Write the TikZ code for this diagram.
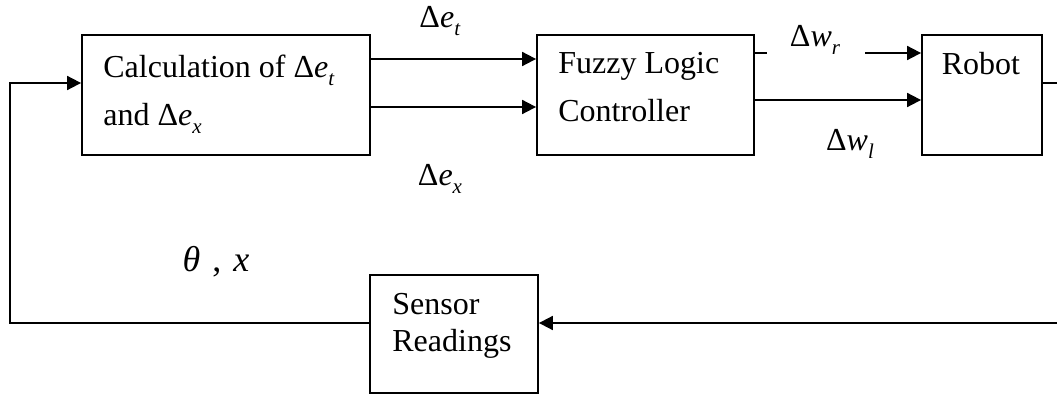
\documentclass[tikz,border=0pt]{standalone}
\usepackage{fontspec}
\setmainfont{Liberation Serif}
\usepackage{tikz}
\usetikzlibrary{arrows.meta,positioning,calc}
\newcommand{\dv}[2]{Δ\textit{#1}\raisebox{-4pt}{\fontsize{10.5pt}{10.5pt}\selectfont\textit{#2}}}

\begin{document}
\begin{tikzpicture}[x=0.5pt,y=-0.5pt,
    blk/.style={draw,line width=0.9pt,inner sep=0pt},
    txt/.style={font=\fontsize{16pt}{24pt}\selectfont,inner sep=0pt,align=left},
    arr/.style={line width=0.9pt,-{Triangle[length=7pt,width=7pt]}},
    wire/.style={line width=0.9pt}]
  \useasboundingbox (0,0) rectangle (1057,395);
  \clip (0,0) rectangle (1057,395);
  % blocks
  \node[blk,minimum width=144pt,minimum height=60pt] (calc) at (226,95) {};
  \node[blk,minimum width=108.5pt,minimum height=60pt] (flc) at (645.5,95) {};
  \node[blk,minimum width=60pt,minimum height=60pt] (robot) at (982,95) {};
  \node[blk,minimum width=84pt,minimum height=59pt] (sens) at (454,334) {};
  % text in the blocks (base = last line)
  \node[txt,anchor=base west] (calctxt) at (103,126) {Calculation of \dv{e}{t}\\and \dv{e}{x}};
  \node[txt,anchor=base west] (flctxt) at (558,122) {Fuzzy Logic\\Controller};
  \node[txt,anchor=base] (robottxt) at (981,75) {Robot};
  \node[txt,anchor=base west,font=\fontsize{16pt}{18.5pt}\selectfont] (senstxt) at (392,352) {Sensor\\Readings};
  % signal labels
  \node[txt,anchor=base] (et) at (440,28) {\dv{e}{t}};
  \node[txt,anchor=base] (ex) at (440,186) {\dv{e}{x}};
  \node[txt,anchor=base] (wr) at (815,47) {\dv{w}{r}};
  \node[txt,anchor=base] (wl) at (850,151) {\dv{w}{l}};
  \node[txt,anchor=base,font=\fontsize{18pt}{22pt}\selectfont] (thx) at (216,272)
      {\textit{θ}\hspace{6pt},\hspace{6pt}\textit{x}};
  % loose ends of the wires
  \coordinate (wrA) at (767,53);
  \coordinate (wrB) at (865,53);
  \coordinate (outR) at (1064,83);
  \coordinate (fbR) at (1064,323);
  \coordinate (fbL) at (10,323);
  \coordinate (fbT) at (10,83);
  % forward path
  \draw[arr] ([yshift=18pt]calc.east) -- ([yshift=18pt]flc.west);
  \draw[arr] ([yshift=-6pt]calc.east) -- ([yshift=-6pt]flc.west);
  \draw[wire] ([yshift=21pt]flc.east) -- (wrA);
  \draw[arr] (wrB) -- ([yshift=21pt]robot.west);
  \draw[arr] ([yshift=-2.5pt]flc.east) -- ([yshift=-2.5pt]robot.west);
  % feedback path
  \draw[wire] ([yshift=6pt]robot.east) -- (outR) -- (fbR);
  \draw[arr] (fbR) -- (sens.east |- fbR);
  \draw[arr] (sens.west |- fbL) -- (fbL) -- (fbT) -- (calc.west |- fbT);
\end{tikzpicture}
\end{document}
